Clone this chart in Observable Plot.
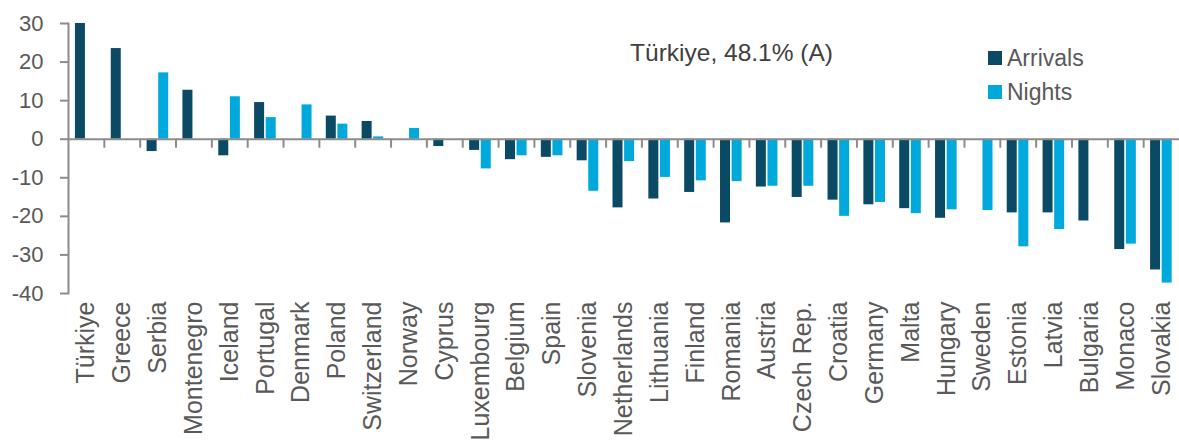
<!DOCTYPE html>
<html>
<head>
<meta charset="utf-8">
<script src="https://cdn.jsdelivr.net/npm/d3@7"></script>
<script src="https://cdn.jsdelivr.net/npm/@observablehq/plot@0.6"></script>
<style>
  html, body { margin: 0; padding: 0; background: #fff; }
  #wrap { position: relative; width: 1179px; height: 441px; font-family: "Liberation Sans", Arial, sans-serif; }
  #legend { position: absolute; left: 988px; top: 41px; font-size: 23px; color: #595959; }
  #legend .item { display: flex; align-items: center; height: 34px; }
  #legend .sw { width: 14px; height: 14px; margin-right: 5px; }
</style>
</head>
<body>
<div id="wrap"></div>
<script>
const countries = ["Türkiye","Greece","Serbia","Montenegro","Iceland","Portugal","Denmark","Poland","Switzerland","Norway","Cyprus","Luxembourg","Belgium","Spain","Slovenia","Netherlands","Lithuania","Finland","Romania","Austria","Czech Rep.","Croatia","Germany","Malta","Hungary","Sweden","Estonia","Latvia","Bulgaria","Monaco","Slovakia"];
const arrivals = [48.1, 23.5, -3.2, 12.7, -4.3, 9.5, null, 6.0, 4.6, null, -1.9, -2.9, -5.3, -4.7, -5.6, -17.8, -15.5, -13.8, -21.7, -12.4, -15.1, -15.8, -17.0, -18.0, -20.5, null, -19.1, -19.1, -21.2, -28.6, -33.9];
const nights = [null, null, 17.2, null, 11.0, 5.6, 8.9, 3.9, 0.6, 2.8, null, -7.7, -4.3, -4.3, -13.5, -5.8, -9.9, -10.8, -11.0, -12.2, -12.2, -20.0, -16.4, -19.3, -18.3, -18.5, -27.9, -23.4, null, -27.2, -37.3];
const seriesNames = ["Arrivals", "Nights"];
const seriesColors = ["#0b4a64", "#00a9db"];
const yTicks = [-40, -30, -20, -10, 0, 10, 20, 30];
const annotationText = ["Türkiye, 48.1% (A)"];
const annotationCountry = "Romania";
const annotationValue = 22.35;

const arrData = countries.map((c, i) => ({country: c, value: arrivals[i]})).filter(d => d.value != null);
const nigData = countries.map((c, i) => ({country: c, value: nights[i]})).filter(d => d.value != null);

const W = 1179, H = 441, mL = 68, mR = 0;
const bw = (W - mL - mR) / countries.length;
const half = bw / 2;

const chart = Plot.plot({
  width: W, height: H,
  marginLeft: mL, marginRight: mR, marginTop: 23, marginBottom: 148,
  style: {fontFamily: "Liberation Sans, Arial, sans-serif", background: "#fff"},
  x: {type: "band", domain: countries, padding: 0, round: false, label: null},
  y: {domain: [-40, 30], clamp: true, label: null},
  marks: [
    Plot.barY(arrData, {x: "country", y: "value", fill: seriesColors[0], insetLeft: half - 11, insetRight: half + 1}),
    Plot.barY(nigData, {x: "country", y: "value", fill: seriesColors[1], insetLeft: half + 0.6, insetRight: half - 10.6}),
    Plot.ruleY([0], {stroke: "#8c8c8c", strokeWidth: 2}),
    Plot.ruleX(countries.slice(1), {x: d => d, y1: 0, y2: 0, insetTop: 0, insetBottom: -9, dx: -half, stroke: "#8c8c8c", strokeWidth: 2}),
    Plot.frame({anchor: "left", stroke: "#8c8c8c", strokeWidth: 2}),
    Plot.axisY({ticks: yTicks, tickSize: 8, tickPadding: 17, stroke: "#8c8c8c", strokeWidth: 2, fill: "#595959", fontSize: 22, tickFormat: d => String(d), label: null}),
    Plot.axisX({anchor: "bottom", tickSize: 0, tickPadding: 8, tickRotate: -90, fontSize: 25, fill: "#595959", label: null}),
    Plot.text(annotationText, {x: () => annotationCountry, y: () => annotationValue, text: d => d, fontSize: 24.5, fill: "#404040", textAnchor: "middle", lineAnchor: "middle"})
  ]
});
const wrap = document.getElementById("wrap");
wrap.appendChild(chart);

const legend = document.createElement("div");
legend.id = "legend";
seriesNames.forEach((name, i) => {
  const item = document.createElement("div");
  item.className = "item";
  const sw = document.createElement("span");
  sw.className = "sw";
  sw.style.background = seriesColors[i];
  const t = document.createElement("span");
  t.textContent = name;
  item.appendChild(sw); item.appendChild(t);
  legend.appendChild(item);
});
wrap.appendChild(legend);
</script>
</body>
</html>
